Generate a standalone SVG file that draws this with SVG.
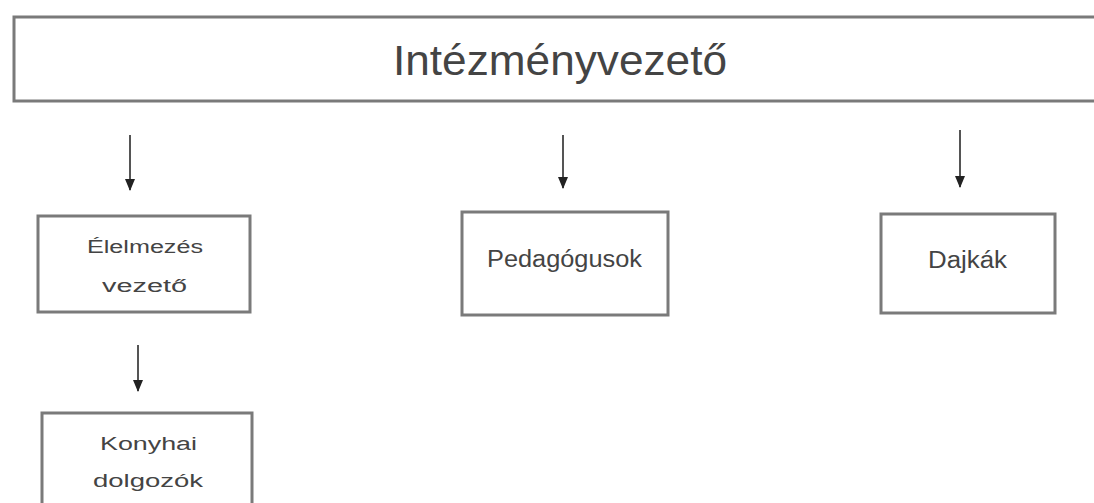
<svg xmlns="http://www.w3.org/2000/svg" width="1094" height="503" viewBox="0 0 1094 503">
<style>
.box{fill:#ffffff;stroke:#7a7a7a;stroke-width:3}
.t{font-family:"Liberation Sans",Arial,sans-serif;fill:#444444;text-anchor:start}
.c{stroke:#555555;stroke-width:2;fill:none}
</style>
<defs>
<marker id="ah" markerWidth="12" markerHeight="12" refX="11" refY="5" orient="auto" markerUnits="userSpaceOnUse" viewBox="0 0 12 10">
<path d="M0,0 L12,5 L0,10 Z" fill="#222222"/>
</marker>
</defs>
<rect width="1094" height="503" fill="#ffffff"/>
<g id="intezmenyvezeto">
<rect class="box" x="14" y="17" width="1096" height="84" stroke="#6e6e6e"/>
<text class="t" x="393" y="75" font-size="42" fill="#2e2e2e" textLength="334" lengthAdjust="spacingAndGlyphs">Intézményvezető</text>
</g>
<g id="elelmezes">
<rect class="box" x="38" y="216" width="212" height="96"/>
<text class="t" x="87" y="253" font-size="18" textLength="116" lengthAdjust="spacingAndGlyphs">Élelmezés</text>
<text class="t" x="102" y="292" font-size="18" textLength="85" lengthAdjust="spacingAndGlyphs">vezető</text>
</g>
<g id="konyhai">
<rect class="box" x="42" y="413" width="210" height="100"/>
<text class="t" x="100" y="450" font-size="18" textLength="97" lengthAdjust="spacingAndGlyphs">Konyhai</text>
<text class="t" x="93" y="487" font-size="18" textLength="110" lengthAdjust="spacingAndGlyphs">dolgozók</text>
</g>
<g id="pedagogusok">
<rect class="box" x="462" y="212" width="206" height="103"/>
<text class="t" x="487" y="267" font-size="23" textLength="155" lengthAdjust="spacingAndGlyphs">Pedagógusok</text>
</g>
<g id="dajkak">
<rect class="box" x="881" y="214" width="174" height="99"/>
<text class="t" x="928" y="268" font-size="23" textLength="79" lengthAdjust="spacingAndGlyphs">Dajkák</text>
</g>
<g id="connectors">
<line class="c" x1="130" y1="135" x2="130" y2="190" marker-end="url(#ah)"/>
<line class="c" x1="138" y1="345" x2="138" y2="391" marker-end="url(#ah)"/>
<line class="c" x1="563" y1="135" x2="563" y2="188" marker-end="url(#ah)"/>
<line class="c" x1="960" y1="130" x2="960" y2="187" marker-end="url(#ah)"/>
</g>
</svg>
